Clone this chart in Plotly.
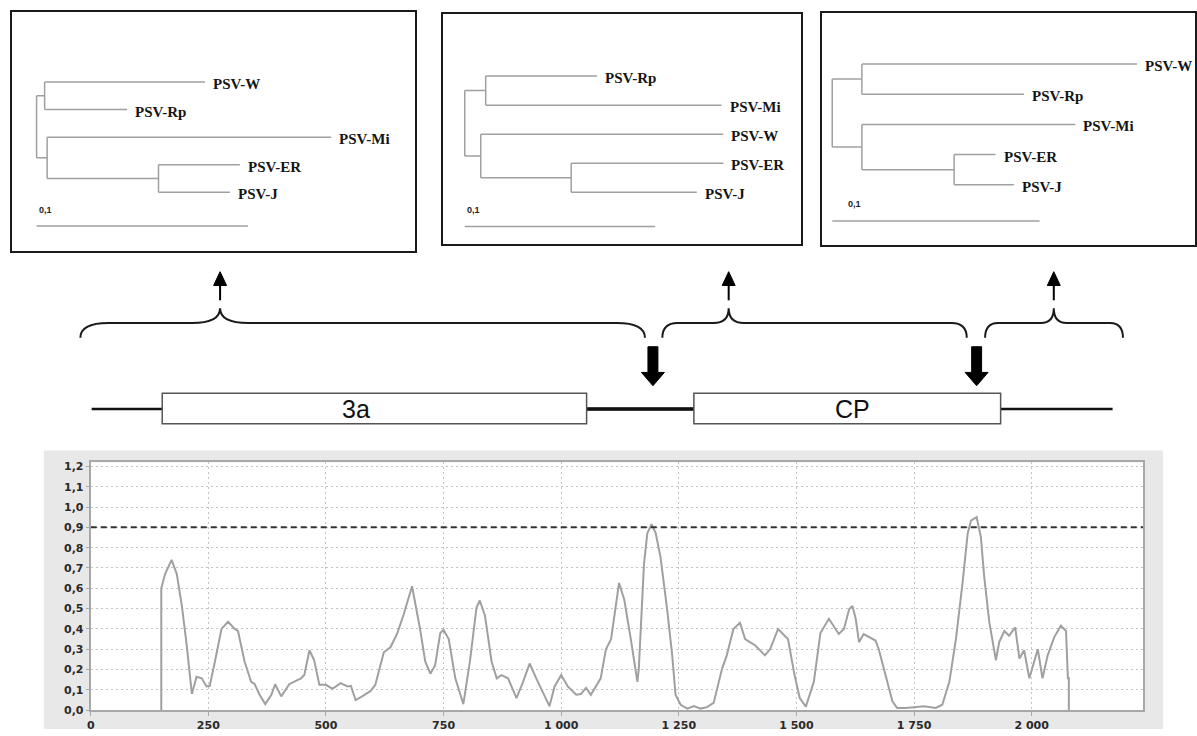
import plotly.graph_objects as go

W, H = 1197, 736

# ---------------- data: similarity / recombination score along the genome ----------------
position = [150, 150, 158, 172, 183, 194, 204, 215, 225, 236,
            246, 253, 264, 278, 292, 306, 313, 327, 341, 348,
            359, 371, 384, 392, 405, 422, 436, 447, 454, 465,
            475, 486, 500, 514, 531, 546, 553, 563, 577, 595,
            605, 623, 637, 651, 665, 683, 700, 711, 722, 732,
            743, 750, 761, 775, 792, 806, 820, 827, 838, 852,
            863, 873, 887, 905, 919, 933, 947, 961, 975, 986,
            1000, 1014, 1032, 1042, 1053, 1063, 1084, 1095, 1106, 1123,
            1134, 1148, 1162, 1165, 1176, 1183, 1192, 1201, 1211, 1225,
            1236, 1243, 1254, 1268, 1282, 1296, 1310, 1324, 1342, 1352,
            1366, 1380, 1391, 1401, 1412, 1433, 1444, 1461, 1472, 1482,
            1496, 1507, 1520, 1537, 1551, 1569, 1590, 1601, 1612, 1619,
            1626, 1633, 1643, 1668, 1675, 1690, 1704, 1714, 1732, 1750,
            1771, 1796, 1810, 1825, 1839, 1853, 1864, 1871, 1883, 1892,
            1899, 1910, 1924, 1931, 1942, 1952, 1965, 1974, 1984, 1995,
            2013, 2023, 2034, 2048, 2062, 2073, 2077, 2079, 2079]
score = [0, 0.60, 0.67, 0.74, 0.67, 0.51, 0.32, 0.08, 0.165, 0.157,
         0.117, 0.12, 0.24, 0.40, 0.435, 0.40, 0.39, 0.24, 0.14, 0.13,
         0.076, 0.03, 0.076, 0.128, 0.068, 0.128, 0.144, 0.157, 0.173, 0.295,
         0.246, 0.125, 0.125, 0.105, 0.133, 0.117, 0.12, 0.05, 0.068, 0.095,
         0.125, 0.285, 0.31, 0.375, 0.47, 0.61, 0.40, 0.24, 0.18, 0.22,
         0.38, 0.395, 0.35, 0.157, 0.03, 0.24, 0.505, 0.54, 0.465, 0.24,
         0.157, 0.173, 0.157, 0.06, 0.14, 0.23, 0.157, 0.092, 0.02, 0.117,
         0.173, 0.117, 0.076, 0.08, 0.11, 0.076, 0.157, 0.30, 0.35, 0.626,
         0.545, 0.35, 0.14, 0.205, 0.72, 0.87, 0.915, 0.87, 0.755, 0.50,
         0.27, 0.076, 0.027, 0.008, 0.02, 0.008, 0.015, 0.036, 0.205, 0.27,
         0.40, 0.43, 0.35, 0.335, 0.32, 0.27, 0.30, 0.40, 0.375, 0.35,
         0.173, 0.06, 0.018, 0.14, 0.38, 0.45, 0.375, 0.40, 0.497, 0.513,
         0.45, 0.335, 0.375, 0.343, 0.30, 0.173, 0.044, 0.011, 0.011, 0.015,
         0.02, 0.011, 0.027, 0.14, 0.35, 0.626, 0.87, 0.933, 0.95, 0.853,
         0.66, 0.432, 0.246, 0.335, 0.39, 0.367, 0.408, 0.254, 0.295, 0.157,
         0.30, 0.157, 0.27, 0.36, 0.416, 0.39, 0.157, 0.157, 0]
threshold = 0.9

x_tickvals = [0, 250, 500, 750, 1000, 1250, 1500, 1750, 2000]
x_ticktext = ["0", "250", "500", "750", "1 000", "1 250", "1 500", "1 750", "2 000"]
y_tickvals = [0.0, 0.1, 0.2, 0.3, 0.4, 0.5, 0.6, 0.7, 0.8, 0.9, 1.0, 1.1, 1.2]
y_ticktext = ["0,0", "0,1", "0,2", "0,3", "0,4", "0,5", "0,6", "0,7", "0,8", "0,9", "1,0", "1,1", "1,2"]

# ---------------- data: genome map (nucleotide positions) ----------------
genome_span = [2, 2172]
orf_names = ["3a", "CP"]
orf_start = [152, 1282]
orf_end = [1054, 1934]
orf_label_x = [563, 1620]
breakpoints = [1195, 1883]
region_start = [-22, 1215, 1901]
region_mid = [275, 1356, 2047]
region_end = [1178, 1862, 2194]

# ---------------- data: phylogenetic trees (parent, child, branch length) ----------------
tree1_edges = [("root", "A", 0.0038), ("A", "PSV-W", 0.0759), ("A", "PSV-Rp", 0.039),
               ("root", "B", 0.005), ("B", "PSV-Mi", 0.1344), ("B", "C", 0.0527),
               ("C", "PSV-ER", 0.0385), ("C", "PSV-J", 0.0338)]
tree1_order = ["PSV-W", "PSV-Rp", "PSV-Mi", "PSV-ER", "PSV-J"]

tree2_edges = [("root", "A", 0.011), ("A", "PSV-Rp", 0.0585), ("A", "PSV-Mi", 0.1239),
               ("root", "B", 0.0084), ("B", "PSV-W", 0.1274), ("B", "C", 0.0475),
               ("C", "PSV-ER", 0.080), ("C", "PSV-J", 0.066)]
tree2_order = ["PSV-Rp", "PSV-Mi", "PSV-W", "PSV-ER", "PSV-J"]

tree3_edges = [("root", "A", 0.0143), ("A", "PSV-W", 0.1327), ("A", "PSV-Rp", 0.0782),
               ("root", "B", 0.0143), ("B", "PSV-Mi", 0.103), ("B", "C", 0.0445),
               ("C", "PSV-ER", 0.020), ("C", "PSV-J", 0.0288)]
tree3_order = ["PSV-W", "PSV-Rp", "PSV-Mi", "PSV-ER", "PSV-J"]

scale_bar = 0.1
scale_label = "0,1"

# ---------------- layout geometry (pixels) ----------------
trees = [
    dict(edges=tree1_edges, order=tree1_order, box=(8, 412, 10, 252), root=32.7, ppu=2120,
         row0=81, dy=27.9, bar_y=226.7, lab_y=211, lab_dx=0.0),
    dict(edges=tree2_edges, order=tree2_order, box=(440.7, 800, 11.7, 245), root=462.3, ppu=1910,
         row0=75, dy=29.4, bar_y=227.3, lab_y=210.7, lab_dx=0.0),
    dict(edges=tree3_edges, order=tree3_order, box=(820.7, 1195, 11, 246), root=831, ppu=2080,
         row0=62.7, dy=30.6, bar_y=221.7, lab_y=204.3, lab_dx=0.0067),
]

PL, PR, PT, PB = 87, 1143, 466, 717
XMAX, YMAX = 2237, 1.22


def py(p):
    return 1 - p / H


def layout_tree(edges, order):
    children, length = {}, {}
    for p, c, l in edges:
        children.setdefault(p, []).append(c)
        length[c] = l
    depth = {"root": 0.0}
    row = {}

    def walk(n):
        for c in children.get(n, []):
            depth[c] = depth[n] + length[c]
            walk(c)
        if n in children:
            rs = [row[c] for c in children[n]]
            row[n] = (min(rs) + max(rs)) / 2
        else:
            row[n] = order.index(n)

    walk("root")
    return children, depth, row


fig = go.Figure()
shapes = []
annotations = []

# gray panel + white plot area
shapes.append(dict(type="rect", xref="paper", yref="paper", x0=40 / W, x1=1163 / W, y0=0, y1=py(454),
                   fillcolor="#e8e8e8", line=dict(width=0), layer="below"))
shapes.append(dict(type="rect", xref="paper", yref="paper", x0=PL / W, x1=PR / W, y0=py(PB), y1=py(PT),
                   fillcolor="white", line=dict(width=0), layer="below"))

# main curve
fig.add_trace(go.Scatter(x=position, y=score, mode="lines", line=dict(color="#a0a0a0", width=2),
                         showlegend=False, hoverinfo="skip", xaxis="x", yaxis="y"))
shapes.append(dict(type="line", xref="x", yref="y", x0=0, x1=XMAX, y0=threshold, y1=threshold,
                   line=dict(color="#333333", width=2, dash="6px,4px")))

tickfont = dict(family="DejaVu Sans", size=11, color="#2a2a2a", weight="bold")
layout_axes = dict(
    xaxis=dict(domain=[PL / W, PR / W], range=[0, XMAX], anchor="y", tickvals=x_tickvals, ticktext=x_ticktext,
               showgrid=True, gridcolor="#c4c4c4", griddash="2px,3px", gridwidth=1, zeroline=False,
               showline=True, mirror=True, linecolor="#a8a8a8", linewidth=2, ticks="outside", ticklen=4,
               tickcolor="#a8a8a8", tickfont=tickfont),
    yaxis=dict(domain=[py(PB), py(PT)], range=[0, YMAX], anchor="x", tickvals=y_tickvals, ticktext=y_ticktext,
               showgrid=True, gridcolor="#c4c4c4", griddash="2px,3px", gridwidth=1, zeroline=False,
               showline=True, mirror=True, linecolor="#a8a8a8", linewidth=2, ticks="outside", ticklen=3,
               tickcolor="#a8a8a8", tickfont=tickfont),
)

# trees
leaf_font = dict(family="Liberation Serif", size=15, color="#151515", weight="bold")
for k, t in enumerate(trees, start=2):
    children, depth, row = layout_tree(t["edges"], t["order"])
    xs, ys = [], []
    for p, cs in children.items():
        rs = [row[c] for c in cs]
        xs += [depth[p], depth[p], None]
        ys += [min(rs), max(rs), None]
        for c in cs:
            xs += [depth[p], depth[c], None]
            ys += [row[c], row[c], None]
    bar_row = (t["bar_y"] - t["row0"]) / t["dy"]
    lab_row = (t["lab_y"] - t["row0"]) / t["dy"]
    xs += [0, scale_bar, None]
    ys += [bar_row, bar_row, None]
    fig.add_trace(go.Scatter(x=xs, y=ys, mode="lines", line=dict(color="#a0a0a0", width=1.5),
                             showlegend=False, hoverinfo="skip", xaxis=f"x{k}", yaxis=f"y{k}"))
    for leaf in t["order"]:
        annotations.append(dict(x=depth[leaf], y=row[leaf], xref=f"x{k}", yref=f"y{k}", text=leaf,
                                showarrow=False, xanchor="left", yanchor="middle", xshift=6, yshift=-2,
                                font=leaf_font))
    annotations.append(dict(x=t["lab_dx"], y=lab_row, xref=f"x{k}", yref=f"y{k}", text=scale_label,
                            showarrow=False, xanchor="left", yanchor="middle",
                            font=dict(family="Liberation Sans", size=9, color="#222", weight="bold")))
    l, r, tp, b = t["box"]
    x_lo = -(t["root"] - l) / t["ppu"]
    x_hi = (r - t["root"]) / t["ppu"]
    y_top = (tp - t["row0"]) / t["dy"]
    y_bot = (b - t["row0"]) / t["dy"]
    common = dict(showline=True, mirror=True, linecolor="#1a1a1a", linewidth=2, showgrid=False,
                  zeroline=False, showticklabels=False, ticks="")
    layout_axes[f"xaxis{k}"] = dict(domain=[l / W, r / W], range=[x_lo, x_hi], anchor=f"y{k}", **common)
    layout_axes[f"yaxis{k}"] = dict(domain=[py(b), py(tp)], range=[y_bot, y_top], anchor=f"x{k}", **common)

# genome-map axis shares the nucleotide scale of the main x axis, spanning the full width
upp = XMAX / (PR - PL)           # nucleotides per pixel
x5_lo = -PL * upp
x5_hi = (W - PL) * upp
layout_axes["xaxis5"] = dict(domain=[0, 1], range=[x5_lo, x5_hi], anchor="y5", visible=False)
layout_axes["yaxis5"] = dict(domain=[0, 1], range=[0, 1], anchor="x5", visible=False)
fig.add_trace(go.Scatter(x=[None], y=[None], xaxis="x5", yaxis="y5", showlegend=False, hoverinfo="skip"))

GY, BOX_T, BOX_B = 412, 396, 427
shapes.append(dict(type="line", xref="x5", yref="paper", x0=genome_span[0], x1=genome_span[1],
                   y0=py(GY), y1=py(GY), line=dict(color="#111", width=2.5)))
shapes.append(dict(type="line", xref="x5", yref="paper", x0=orf_end[0], x1=orf_start[1],
                   y0=py(GY), y1=py(GY), line=dict(color="#111", width=3.5)))
for name, s, e, lx in zip(orf_names, orf_start, orf_end, orf_label_x):
    shapes.append(dict(type="rect", xref="x5", yref="paper", x0=s, x1=e, y0=py(BOX_B), y1=py(BOX_T),
                       fillcolor="white", line=dict(color="#555", width=1.5)))
    annotations.append(dict(x=lx, y=py((BOX_T + BOX_B) / 2 + 1), xref="x5", yref="paper", text=name,
                            showarrow=False, xanchor="center", yanchor="middle",
                            font=dict(family="Liberation Sans", size=25, color="#111", weight=500)))

# breakpoint arrows (thick, pointing down)
sw, hw = 5 * upp, 11.5 * upp
for bp in breakpoints:
    path = (f"M{bp - sw},{py(349)} L{bp + sw},{py(349)} L{bp + sw},{py(375)} L{bp + hw},{py(375)} "
            f"L{bp},{py(388.5)} L{bp - hw},{py(375)} L{bp - sw},{py(375)} Z")
    shapes.append(dict(type="path", xref="x5", yref="paper", path=path, fillcolor="#000",
                       line=dict(color="#000", width=1)))

# braces and thin up arrows
for s, m, e in zip(region_start, region_mid, region_end):
    c = max(13, 0.05 * (e - s) / upp) * upp
    ye, yh, yp = py(340), py(325), py(310)
    path = (f"M{s},{ye} Q{s},{yh} {s + c},{yh} L{m - c},{yh} Q{m},{yh} {m},{yp} "
            f"Q{m},{yh} {m + c},{yh} L{e - c},{yh} Q{e},{yh} {e},{ye}")
    shapes.append(dict(type="path", xref="x5", yref="paper", path=path, line=dict(color="#1a1a1a", width=2)))
    shapes.append(dict(type="line", xref="x5", yref="paper", x0=m, x1=m, y0=py(302), y1=py(285),
                       line=dict(color="#000", width=2)))
    ah = 6.5 * upp
    shapes.append(dict(type="path", xref="x5", yref="paper",
                       path=f"M{m - ah},{py(287)} L{m + ah},{py(287)} L{m},{py(273)} Z",
                       fillcolor="#000", line=dict(color="#000", width=1)))

fig.update_layout(width=W, height=H, margin=dict(l=0, r=0, t=0, b=0), paper_bgcolor="white",
                  plot_bgcolor="rgba(0,0,0,0)", showlegend=False, shapes=shapes, annotations=annotations,
                  **layout_axes)

fig.write_html("out.html", config={"displayModeBar": False},
               post_script="document.body.style.margin='0';")
